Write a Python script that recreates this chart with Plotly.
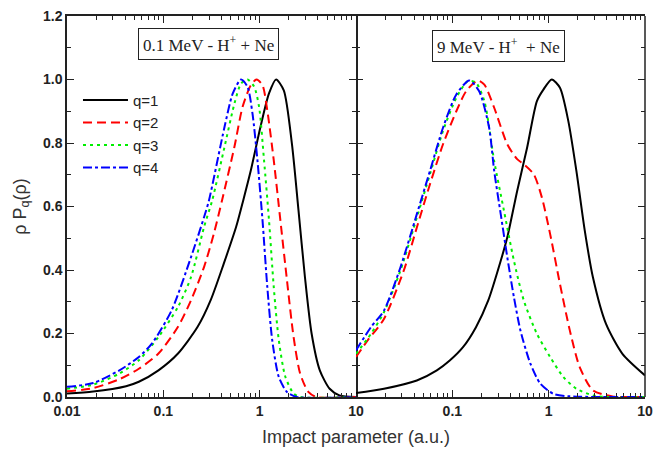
import plotly.graph_objects as go
from plotly.subplots import make_subplots

# ---- Left panel: 0.1 MeV H+ + Ne ----
L_q1_x = [0.01, 0.0187, 0.041, 0.0557, 0.089, 0.142, 0.227, 0.31, 0.424, 0.57, 0.676, 0.81, 1.02, 1.25, 1.48, 1.78, 2.16, 2.53, 2.95, 3.46, 4.21, 5.33, 6.73, 10]
L_q1_y = [0.0107, 0.017, 0.034, 0.048, 0.084, 0.137, 0.221, 0.305, 0.42, 0.536, 0.62, 0.714, 0.851, 0.956, 1.0, 0.966, 0.798, 0.588, 0.378, 0.2, 0.084, 0.026, 0.005, 0.0]

L_q2_x = [0.01, 0.0187, 0.035, 0.0557, 0.089, 0.142, 0.194, 0.265, 0.335, 0.407, 0.547, 0.665, 0.81, 0.93, 1.07, 1.2, 1.40, 1.64, 1.92, 2.25, 2.63, 3.2, 3.89, 10]
L_q2_y = [0.018, 0.028, 0.056, 0.089, 0.137, 0.221, 0.305, 0.41, 0.515, 0.62, 0.788, 0.914, 0.982, 1.0, 0.982, 0.903, 0.746, 0.557, 0.368, 0.189, 0.074, 0.016, 0.0, 0.0]

L_q3_x = [0.01, 0.0187, 0.035, 0.0557, 0.089, 0.142, 0.194, 0.265, 0.322, 0.432, 0.547, 0.64, 0.748, 0.877, 0.986, 1.11, 1.25, 1.40, 1.58, 1.85, 2.25, 2.63, 10]
L_q3_y = [0.026, 0.039, 0.074, 0.116, 0.189, 0.284, 0.378, 0.536, 0.62, 0.788, 0.924, 0.987, 1.0, 0.977, 0.914, 0.746, 0.557, 0.347, 0.179, 0.063, 0.011, 0.0, 0.0]

L_q4_x = [0.01, 0.0187, 0.035, 0.0557, 0.076, 0.122, 0.194, 0.265, 0.298, 0.432, 0.526, 0.64, 0.748, 0.842, 0.948, 1.07, 1.2, 1.35, 1.58, 1.92, 2.43, 10]
L_q4_y = [0.032, 0.044, 0.084, 0.126, 0.168, 0.273, 0.441, 0.567, 0.62, 0.851, 0.956, 1.0, 0.977, 0.893, 0.746, 0.557, 0.347, 0.179, 0.063, 0.016, 0.0, 0.0]

# ---- Right panel: 9 MeV H+ + Ne ----
R_q1_x = [0.01, 0.0195, 0.0428, 0.069, 0.094, 0.129, 0.176, 0.236, 0.318, 0.372, 0.471, 0.597, 0.755, 0.885, 1.077, 1.31, 1.6, 1.94, 2.37, 2.88, 3.94, 5.83, 10]
R_q1_y = [0.0126, 0.026, 0.052, 0.084, 0.115, 0.157, 0.22, 0.304, 0.429, 0.503, 0.649, 0.785, 0.932, 0.969, 1.0, 0.974, 0.869, 0.712, 0.524, 0.377, 0.23, 0.136, 0.068]

R_q2_x = [0.01, 0.0132, 0.0195, 0.0313, 0.0428, 0.0586, 0.080, 0.11, 0.139, 0.183, 0.215, 0.272, 0.372, 0.471, 0.552, 0.699, 0.851, 1.036, 1.31, 1.66, 2.1, 2.88, 4.6, 10]
R_q2_y = [0.126, 0.178, 0.246, 0.398, 0.534, 0.670, 0.796, 0.90, 0.963, 0.997, 0.984, 0.911, 0.796, 0.749, 0.733, 0.702, 0.628, 0.513, 0.356, 0.209, 0.094, 0.021, 0.002, 0.0]

R_q3_x = [0.01, 0.0143, 0.0195, 0.0289, 0.0428, 0.0586, 0.080, 0.11, 0.145, 0.176, 0.215, 0.272, 0.344, 0.436, 0.552, 0.755, 1.036, 1.42, 1.94, 2.88, 4.0, 10]
R_q3_y = [0.136, 0.199, 0.267, 0.398, 0.565, 0.702, 0.838, 0.942, 0.995, 0.99, 0.932, 0.743, 0.586, 0.429, 0.304, 0.199, 0.126, 0.063, 0.026, 0.005, 0.0, 0.0]

R_q4_x = [0.01, 0.0143, 0.0195, 0.0289, 0.0428, 0.0586, 0.080, 0.11, 0.15, 0.19, 0.241, 0.272, 0.318, 0.372, 0.436, 0.51, 0.646, 0.819, 1.12, 1.66, 10]
R_q4_y = [0.147, 0.22, 0.272, 0.408, 0.576, 0.712, 0.848, 0.953, 0.997, 0.963, 0.848, 0.712, 0.576, 0.44, 0.314, 0.209, 0.105, 0.042, 0.01, 0.002, 0.0]

names = ["q=1", "q=2", "q=3", "q=4"]
colors = ["#000000", "#FF0000", "#00EE00", "#0000FF"]
dashes = ["solid", "9px,5px", "3px,4px", "9px,3px,3px,3px"]

left = [(L_q1_x, L_q1_y), (L_q2_x, L_q2_y), (L_q3_x, L_q3_y), (L_q4_x, L_q4_y)]
right = [(R_q1_x, R_q1_y), (R_q2_x, R_q2_y), (R_q3_x, R_q3_y), (R_q4_x, R_q4_y)]

fig = make_subplots(rows=1, cols=2, shared_yaxes=True, horizontal_spacing=0)

for i in range(4):
    fig.add_trace(go.Scatter(x=left[i][0], y=left[i][1], mode="lines", name=names[i],
                             line=dict(color=colors[i], width=2, dash=dashes[i], shape="spline", smoothing=0.7),
                             showlegend=True), row=1, col=1)
for i in range(4):
    fig.add_trace(go.Scatter(x=right[i][0], y=right[i][1], mode="lines", name=names[i],
                             line=dict(color=colors[i], width=2, dash=dashes[i], shape="spline", smoothing=0.7),
                             showlegend=False), row=1, col=2)

minor_vals = [m * 10.0 ** e for e in (-2, -1, 0) for m in range(2, 10)]
tickfont = dict(family="Liberation Sans, Arial", size=14, color="#222222")

xcommon = dict(type="log", range=[-2, 1], showline=True, linecolor="#222222", linewidth=1.5,
               mirror="allticks", ticks="inside", ticklen=7, tickwidth=1.3, tickcolor="#222222",
               showgrid=False, zeroline=False, tickfont=tickfont,
               minor=dict(tickmode="array", tickvals=minor_vals, ticks="inside", ticklen=4,
                          tickwidth=1.2, tickcolor="#222222", showgrid=False))

fig.update_xaxes(xcommon, row=1, col=1, tickmode="array", tickvals=[0.01, 0.1, 1, 10],
                 ticktext=["<b>0.01</b>", "<b>0.1</b>", "<b>1</b>", "<b>10</b>"])
fig.update_xaxes(xcommon, row=1, col=2, tickmode="array", tickvals=[0.1, 1, 10],
                 ticktext=["<b>0.1</b>", "<b>1</b>", "<b>10</b>"])

ycommon = dict(range=[0, 1.2], showline=True, linecolor="#222222", linewidth=1.5,
               mirror="allticks", ticks="inside", ticklen=7, tickwidth=1.3, tickcolor="#222222",
               showgrid=False, zeroline=False, tickfont=tickfont,
               tickmode="array", tickvals=[0, 0.2, 0.4, 0.6, 0.8, 1.0, 1.2],
               ticktext=["<b>0.0</b>", "<b>0.2</b>", "<b>0.4</b>", "<b>0.6</b>", "<b>0.8</b>", "<b>1.0</b>", "<b>1.2</b>"],
               minor=dict(tickmode="array", tickvals=[0.1, 0.3, 0.5, 0.7, 0.9, 1.1], ticks="inside",
                          ticklen=4, tickwidth=1.2, tickcolor="#222222", showgrid=False))
fig.update_yaxes(ycommon, row=1, col=1,
                 title=dict(text="ρ P<sub>q</sub>(ρ)", font=dict(family="Liberation Sans, Arial", size=18, color="#333333"), standoff=12))
fig.update_yaxes(ycommon, row=1, col=2, showticklabels=False, showline=False)

# right edge of the right panel (its own y-axis line is hidden to avoid a doubled divider)
fig.add_shape(type="line", xref="paper", yref="paper", x0=1, x1=1, y0=0, y1=1,
              line=dict(color="#222222", width=1.5))

fig.add_annotation(x=0.5, y=-0.105, xref="paper", yref="paper", showarrow=False,
                   xanchor="center", yanchor="middle",
                   text="Impact parameter (a.u.)",
                   font=dict(family="Liberation Sans, Arial", size=18, color="#333333"))

boxfont = dict(family="Liberation Serif, Times New Roman", size=17, color="#222222")
fig.add_annotation(x=(210 - 67) / 586, y=(397 - 43.5) / 382, xref="paper", yref="paper", showarrow=False,
                   xanchor="center", yanchor="middle",
                   text="0.1 MeV - H<sup>+</sup> + Ne", font=boxfont,
                   bordercolor="#222222", borderwidth=1, borderpad=4, bgcolor="white")
fig.add_annotation(x=(504 - 67) / 586, y=(397 - 45.5) / 382, xref="paper", yref="paper", showarrow=False,
                   xanchor="center", yanchor="middle",
                   text="9 MeV - H<sup>+</sup>\u00a0 + Ne", font=boxfont,
                   bordercolor="#222222", borderwidth=1, borderpad=4, bgcolor="white")

fig.update_layout(
    width=661, height=451,
    margin=dict(l=67, r=8, t=15, b=54),
    paper_bgcolor="white", plot_bgcolor="white",
    legend=dict(x=0.019, y=0.822, xanchor="left", yanchor="top", bgcolor="rgba(0,0,0,0)",
                font=dict(family="Liberation Sans, Arial", size=15, color="#222222"),
                itemwidth=45, tracegroupgap=0),
)

fig.write_html("out.html", config={"displayModeBar": False},
               post_script="document.body.style.margin='0';document.body.style.padding='0';")
